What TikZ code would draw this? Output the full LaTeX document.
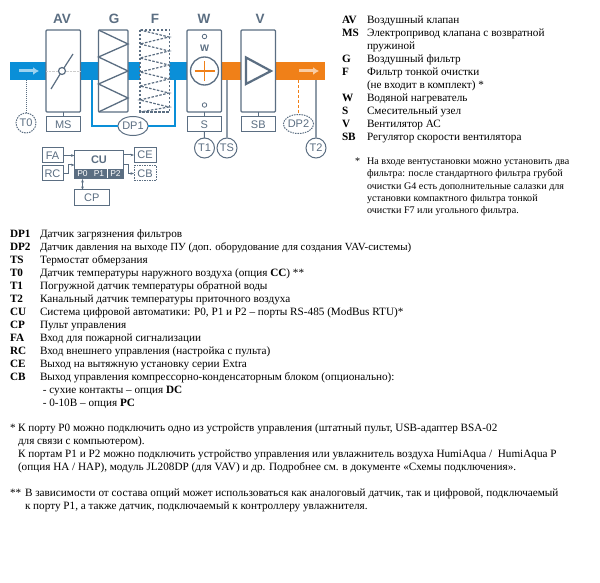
\documentclass[tikz,border=0pt]{standalone}
\usepackage{fontspec}
\setmainfont{Liberation Serif}
\setsansfont{Liberation Sans}
\usetikzlibrary{positioning, shapes.geometric, arrows.meta, calc}
\definecolor{unitgray}{HTML}{5B6E82}
\definecolor{wiregray}{HTML}{8E9BA8}
\definecolor{ductblue}{HTML}{0A8FD8}
\definecolor{ductorange}{HTML}{F08018}

\begin{document}
\begin{tikzpicture}[
    x=1pt, y=-1pt,
    every node/.style={inner sep=0pt, outer sep=0pt},
    duct/.style={rectangle, minimum height=18pt, anchor=north west},
    unit/.style={
        rectangle, rounded corners=1pt, draw=unitgray, line width=1.3pt, fill=white,
        minimum width=34.5pt, minimum height=82pt, anchor=north west
    },
    ctrl/.style={
        rectangle, draw=unitgray, line width=1pt, fill=white, text=unitgray,
        minimum height=15pt, font=\sffamily\fontsize{11}{12}\selectfont
    },
    head/.style={font=\sffamily\bfseries\fontsize{13.5}{15}\selectfont, text=unitgray},
    sensor/.style={
        circle, draw=unitgray, line width=1pt, fill=white, text=unitgray,
        minimum size=20pt, font=\sffamily\fontsize{11}{12}\selectfont
    },
    port/.style={
        rectangle, fill=unitgray, text=white, minimum height=10pt,
        font=\sffamily\fontsize{8.5}{9}\selectfont
    },
    pres/.style={
        ellipse, draw=unitgray, line width=1pt, fill=white, text=unitgray,
        minimum width=29pt, minimum height=19pt, font=\sffamily\fontsize{11}{12}\selectfont
    },
    wire/.style={draw=unitgray, line width=1pt},
    sig/.style={draw=unitgray, line width=1pt, -{Stealth[length=3.5pt]}},
    key/.style={anchor=base west, font=\bfseries\fontsize{11.2}{13}\selectfont},
    desc/.style={anchor=base west, align=left, font=\fontsize{11.2}{13}\selectfont},
    small/.style={anchor=base west, align=left, font=\fontsize{10.1}{12}\selectfont}
]
\useasboundingbox (0,0) rectangle (600,583);

% === Duct ===
\node[duct, fill=ductblue, minimum width=177pt] (ductin) at (10,62) {};
\node[duct, fill=ductorange, minimum width=103pt] (ductout) at (222,62) {};
\coordinate (flowin) at (19,71);
\coordinate (flowintip) at (39,71);
\coordinate (flowout) at (299,71);
\coordinate (flowouttip) at (319,71);
\draw[-{Latex[length=6pt,width=8pt]}, line width=3pt, ductblue!40!white] (flowin) -- (flowintip);
\draw[-{Latex[length=6pt,width=8pt]}, line width=3pt, ductorange!40!white] (flowout) -- (flowouttip);

% === Units ===
\node[unit] (av) at (46,30) {};
\node[unit, minimum width=29.5pt] (g) at (98.5,30) {};
\node[unit, draw=none, minimum width=29.5pt] (f) at (140,30) {};
\node[unit] (w) at (187,30) {};
\node[unit] (v) at (241,30) {};
\draw[unitgray, line width=1.3pt, dash pattern=on 2.5pt off 1.5pt]
    (f.north west) rectangle (f.south east);

\node[head] at (62,19) {AV};
\node[head] at (114,19) {G};
\node[head] at (155,19) {F};
\node[head] at (204,19) {W};
\node[head] at (260,19) {V};

% Damper
\node[circle, draw=unitgray, line width=1.2pt, minimum size=7pt] (damper) at (62,71) {};
\coordinate (blade1) at (51,89);
\coordinate (blade2) at (73,54);
\draw[unitgray, line width=1.2pt] (blade1) -- (damper) -- (blade2);
\draw[gray!40, densely dotted] (av.west |- damper) -- (damper) -- (av.east |- damper);

% Filter
\draw[unitgray, line width=1.3pt]
    (g.north west) -- (128,44) -- (98.5,57) -- (128,71) -- (98.5,84) -- (128,98) -- (g.south west);
\draw[unitgray, line width=1.2pt, dash pattern=on 2.5pt off 1.5pt]
    (f.north west) -- (169,37) -- (140,44) -- (169,51) -- (140,58) -- (169,65) -- (140,72)
    -- (169,79) -- (140,86) -- (169,93) -- (140,100) -- (169,107) -- (f.south west);

% Heater
\node[circle, draw=unitgray, line width=1.3pt, fill=white, minimum size=28pt] (coil) at (204.5,71) {};
\draw[ductorange, line width=1.2pt] ([xshift=-10pt]coil.center) -- ([xshift=10pt]coil.center);
\draw[ductorange, line width=1.2pt] ([yshift=-10pt]coil.center) -- ([yshift=10pt]coil.center);
\node[circle, draw=unitgray, line width=0.8pt, minimum size=4.5pt] (wtop) at (204.5,36.5) {};
\node[circle, draw=unitgray, line width=0.8pt, minimum size=4.5pt] (wbot) at (204.5,105) {};
\node[font=\sffamily\bfseries\fontsize{9.5}{10}\selectfont, text=unitgray] (wlabel) at (204.5,48) {W};

% Fan
\coordinate (fanup) at (246,57.5);
\coordinate (fandown) at (246,84);
\coordinate (fantip) at (271,71);
\draw[unitgray, line width=2.2pt] (fanup) -- (fantip) -- (fandown) -- cycle;

% === Actuators below units ===
\node[ctrl, minimum width=34.5pt, below=5pt of av] (ms) {MS};
\node[ctrl, minimum width=34.5pt, below=5pt of w] (s) {S};
\node[ctrl, minimum width=34.5pt, below=5pt of v] (sb) {SB};
\draw[wire] (av) -- (ms);
\draw[wire] (w) -- (s);
\draw[wire] (v) -- (sb);

% === Sensors ===
\node[sensor, dash pattern=on 1.5pt off 1pt] (t0) at (26,123) {T0};
\node[pres] (dp1) at (133,126) {DP1};
\node[pres, dash pattern=on 1.5pt off 1pt] (dp2) at (298.5,124) {DP2};
\node[sensor] (t1) at (204.5,148) {T1};
\node[sensor] (ts) at (227,148) {TS};
\node[sensor] (t2) at (316,148) {T2};
\draw[unitgray, line width=1pt, densely dotted] (t0.north |- ductin.south) -- (t0);
\draw[ductblue, line width=1.2pt] (ductin.south -| 92,0) |- (dp1);
\draw[ductblue, line width=1.2pt] (ductin.south -| 175,0) |- (dp1);
\draw[ductorange, line width=1.2pt, densely dashed] (dp2.north |- ductout.south) -- (dp2);
\draw[wire] (s) -- (t1);
\draw[wiregray, line width=1.2pt] (ts.north |- ductout.south) -- (ts);
\draw[wiregray, line width=1.2pt] (t2.north |- ductout.south) -- (t2);

% === Controller ===
\node[ctrl, minimum width=21pt, anchor=north west] (fa) at (42,148) {FA};
\node[ctrl, minimum width=21pt, anchor=north west] (rc) at (42,166) {RC};
\node[ctrl, minimum width=49pt, minimum height=28pt, anchor=north west] (cu) at (74.5,151) {};
\node[font=\sffamily\bfseries\fontsize{11}{12}\selectfont, text=unitgray] (cutitle) at (99,160) {CU};
\node[port, minimum width=16pt, anchor=north west] (p0) at (74.5,169) {P0};
\node[port, minimum width=16pt, anchor=north west] (p1) at (91,169) {P1};
\node[port, minimum width=16pt, anchor=north west] (p2) at (107.5,169) {P2};
\node[ctrl, minimum width=22pt, anchor=north west] (ce) at (134,147.5) {CE};
\node[ctrl, minimum width=22pt, anchor=north west, dash pattern=on 1.5pt off 1pt] (cb) at (134,166) {CB};
\node[ctrl, minimum width=34.5pt, anchor=north west] (cp) at (74.5,190) {CP};
\draw[sig] (fa.east) -- (cu.west |- fa.east);
\draw[sig] (rc.east) -- ++(5,0) |- (74.5,165);
\draw[sig] (cu.east |- ce.west) -- (ce.west);
\draw[sig] (123.5,165) -- ++(5,0) |- (cb.west);
\draw[draw=unitgray, line width=1pt, {Stealth[length=3.5pt]}-{Stealth[length=3.5pt]}] (p0.south) -- (p0.south |- cp.north);

% === Legend (right) ===
\node[key] (kav) at (342,24) {AV};
\node[desc] (dav) at (367,24) {Воздушный клапан};
\node[key] (kms) at (342,37) {MS};
\node[desc] (dms) at (367,50) {Электропривод клапана с возвратной\\пружиной};
\node[key] (kg) at (342,63) {G};
\node[desc] (dg) at (367,63) {Воздушный фильтр};
\node[key] (kf) at (342,76) {F};
\node[desc] (df) at (367,89) {Фильтр тонкой очистки\\(не входит в комплект) *};
\node[key] (kw) at (342,102) {W};
\node[desc] (dw) at (367,102) {Водяной нагреватель};
\node[key] (ks) at (342,115) {S};
\node[desc] (ds) at (367,115) {Смесительный узел};
\node[key] (kv) at (342,128) {V};
\node[desc] (dv) at (367,128) {Вентилятор АС};
\node[key] (ksb) at (342,141) {SB};
\node[desc] (dsb) at (367,141) {Регулятор скорости вентилятора};

\node[small] (star) at (355,165) {*};
\node[small] (starnote) at (367,213) {На входе вентустановки можно установить два\\фильтра: после стандартного фильтра грубой\\очистки G4 есть дополнительные салазки для\\установки компактного фильтра тонкой\\очистки F7 или угольного фильтра.};

% === Legend (below) ===
\node[key] (kdp1) at (10,237) {DP1};
\node[desc] (ddp1) at (40,237) {Датчик загрязнения фильтров};
\node[key] (kdp2) at (10,250) {DP2};
\node[desc, font=\fontsize{10.9}{13}\selectfont] (ddp2) at (40,250) {Датчик давления на выходе ПУ (доп. оборудование для создания VAV-системы)};
\node[key] (kts) at (10,263) {TS};
\node[desc] (dts) at (40,263) {Термостат обмерзания};
\node[key] (kt0) at (10,276) {T0};
\node[desc] (dt0) at (40,276) {Датчик температуры наружного воздуха (опция \textbf{CC}) **};
\node[key] (kt1) at (10,289) {T1};
\node[desc] (dt1) at (40,289) {Погружной датчик температуры обратной воды};
\node[key] (kt2) at (10,302) {T2};
\node[desc] (dt2) at (40,302) {Канальный датчик температуры приточного воздуха};
\node[key] (kcu) at (10,315) {CU};
\node[desc] (dcu) at (40,315) {Система цифровой автоматики: P0, P1 и P2 – порты RS-485 (ModBus RTU)*};
\node[key] (kcp) at (10,328) {CP};
\node[desc] (dcp) at (40,328) {Пульт управления};
\node[key] (kfa) at (10,341) {FA};
\node[desc] (dfa) at (40,341) {Вход для пожарной сигнализации};
\node[key] (krc) at (10,354) {RC};
\node[desc] (drc) at (40,354) {Вход внешнего управления (настройка с пульта)};
\node[key] (kce) at (10,367) {CE};
\node[desc] (dce) at (40,367) {Выход на вытяжную установку серии Extra};
\node[key] (kcb) at (10,380) {CB};
\node[desc] (dcb) at (40,406) {Выход управления компрессорно-конденсаторным блоком (опционально):\\\ - сухие контакты – опция \textbf{DC}\\\ - 0-10В – опция \textbf{PC}};

% === Notes ===
\node[desc] (nstar) at (10,431) {*};
\node[desc] (note1) at (18,470) {К порту P0 можно подключить одно из устройств управления (штатный пульт, USB-адаптер BSA-02\\для связи с компьютером).\\К портам P1 и P2 можно подключить устройство управления или увлажнитель воздуха HumiAqua /\ \ HumiAqua P\\(опция HA / HAP), модуль JL208DP (для VAV) и др. Подробнее см. в документе «Схемы подключения».};
\node[desc] (nstars) at (10,496) {**};
\node[desc] (note2) at (25,509) {В зависимости от состава опций может использоваться как аналоговый датчик, так и цифровой, подключаемый\\к порту P1, а также датчик, подключаемый к контроллеру увлажнителя.};

\end{tikzpicture}
\end{document}
